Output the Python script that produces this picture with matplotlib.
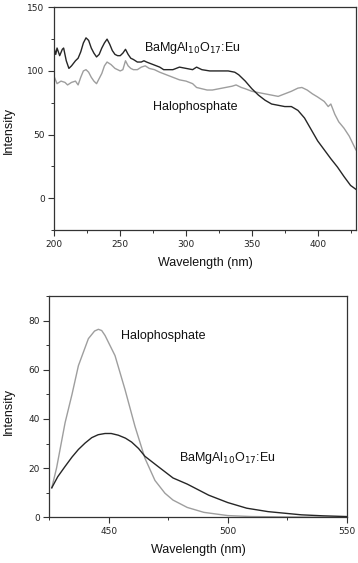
import matplotlib
matplotlib.use("Agg")
import matplotlib.pyplot as plt
from matplotlib.ticker import MultipleLocator

plt.rcParams['font.family'] = ['Liberation Sans', 'DejaVu Sans']

# ---- Excitation spectra (top) ----
exc_bam_x = [200, 201, 202, 204, 206, 207, 209, 211, 213, 216, 218, 220, 222, 224, 226, 228, 230,
             232, 234, 236, 238, 240, 242, 244, 246, 248, 250, 252, 254, 256, 258, 260, 263, 266,
             268, 270, 275, 280, 283, 286, 290, 295, 300, 305, 308, 312, 318, 325, 332, 337, 340,
             345, 350, 355, 360, 365, 370, 375, 380, 385, 390, 395, 400, 405, 410, 415, 420, 425, 429]
exc_bam_y = [117, 113, 118, 112, 117, 118, 108, 102, 104, 108, 110, 115, 122, 126, 124, 118, 114,
             111, 113, 118, 122, 125, 121, 116, 113, 112, 112, 114, 117, 113, 110, 109, 107, 107,
             108, 107, 105, 103, 101, 101, 101, 103, 102, 101, 103, 101, 100, 100, 100, 99, 97,
             92, 86, 81, 77, 74, 73, 72, 72, 69, 63, 54, 45, 38, 31, 24.5, 17, 10, 7]

exc_halo_x = [200, 202, 205, 208, 210, 213, 216, 218, 220, 222, 224, 226, 228, 230, 232, 234, 236,
              238, 240, 243, 246, 250, 252, 254, 256, 258, 260, 263, 266, 269, 272, 276, 280, 285,
              290, 295, 300, 305, 308, 312, 316, 320, 325, 330, 335, 338, 342, 345, 350, 355, 360,
              365, 370, 375, 380, 385, 388, 392, 396, 400, 405, 408, 410, 413, 416, 420, 424, 429]
exc_halo_y = [95, 90, 92, 91, 89, 91, 92, 89, 95, 100, 101, 99, 95, 92, 90, 94, 98,
              104, 107, 105, 102, 100, 101, 108, 104, 102, 101, 101, 103, 104, 102, 101, 99, 97,
              95, 93, 92, 90, 87, 86, 85, 85, 86, 87, 88, 89, 87, 86, 84, 83, 82,
              81, 80, 82, 84, 86.5, 87, 85, 82, 79.5, 76, 72, 74, 66, 60, 55, 48.7, 38]

# ---- Emission spectra (bottom) ----
em_halo_x = [426, 428, 431.6, 434.5, 437.2, 441.4, 444, 445.6, 447, 448.4, 452.6, 456.8, 461,
             465.2, 469.4, 473.6, 477, 483, 490, 500, 510, 530, 550]
em_halo_y = [12, 20, 38.5, 50, 61.7, 72.7, 75.8, 76.5, 76, 74, 65.8, 52, 37,
             24, 15, 9.8, 7, 4, 2, 0.7, 0.3, 0.1, 0]

em_bam_x = [426, 428.5, 431.6, 434.5, 437.2, 440, 442.8, 445.5, 448.4, 451, 454, 457, 459.6,
            462.5, 465.2, 470.8, 477, 483, 492, 500, 508, 517, 531, 540, 550]
em_bam_y = [12, 16.5, 20.7, 24.5, 27.6, 30.2, 32.4, 33.6, 34.1, 34.1, 33.4, 32.2, 30.6,
            28, 24.8, 20.6, 16, 13.5, 9, 6, 3.7, 2.3, 1, 0.6, 0.3]

label_bam = r'BaMgAl$_{10}$O$_{17}$:Eu'
label_halo = 'Halophosphate'

dark = '#262626'
light = '#9e9e9e'

fig = plt.figure(figsize=(3.58, 5.63), dpi=100)

ax1 = fig.add_axes([0.152, 0.5915, 0.842, 0.3955])
ax2 = fig.add_axes([0.138, 0.0812, 0.830, 0.3928])

ax1.plot(exc_halo_x, exc_halo_y, color=light, lw=1.0)
ax1.plot(exc_bam_x, exc_bam_y, color=dark, lw=1.0)
ax1.set_xlim(200, 429)
ax1.set_ylim(-25, 150)
ax1.xaxis.set_major_locator(MultipleLocator(50))
ax1.xaxis.set_minor_locator(MultipleLocator(25))
ax1.yaxis.set_major_locator(MultipleLocator(50))
ax1.yaxis.set_minor_locator(MultipleLocator(25))
ax1.text(268, 118, label_bam, fontsize=9, va='center', ha='left', color='#111111')
ax1.text(275, 72, label_halo, fontsize=9, va='center', ha='left', color='#111111')

ax2.plot(em_halo_x, em_halo_y, color=light, lw=1.0)
ax2.plot(em_bam_x, em_bam_y, color=dark, lw=1.0)
ax2.set_xlim(425, 550)
ax2.set_ylim(0, 90)
ax2.xaxis.set_major_locator(MultipleLocator(50))
ax2.xaxis.set_minor_locator(MultipleLocator(25))
ax2.yaxis.set_major_locator(MultipleLocator(20))
ax2.yaxis.set_minor_locator(MultipleLocator(10))
ax2.text(455.3, 73.8, label_halo, fontsize=9, va='center', ha='left', color='#111111')
ax2.text(479.7, 24.2, label_bam, fontsize=9, va='center', ha='left', color='#111111')

for ax, xl, yl in ((ax1, -0.131, 0.445), (ax2, -0.117, 0.48)):
    for s in ax.spines.values():
        s.set_color('#333333')
        s.set_linewidth(0.9)
    ax.tick_params(which='major', direction='out', length=4, width=0.8, colors='#333333',
                   labelsize=6.5, labelcolor='#222222', pad=3)
    ax.tick_params(which='minor', direction='out', length=2, width=0.7, colors='#333333')
    for lab in ax.get_xticklabels() + ax.get_yticklabels():
        lab.set_family('DejaVu Sans')
    ax.set_xlabel('Wavelength (nm)', fontsize=9, color='#111111', labelpad=6)
    ax.set_ylabel('Intensity', fontsize=9, color='#111111')
    ax.yaxis.set_label_coords(xl, yl)

fig.savefig('out.png', dpi=100)
